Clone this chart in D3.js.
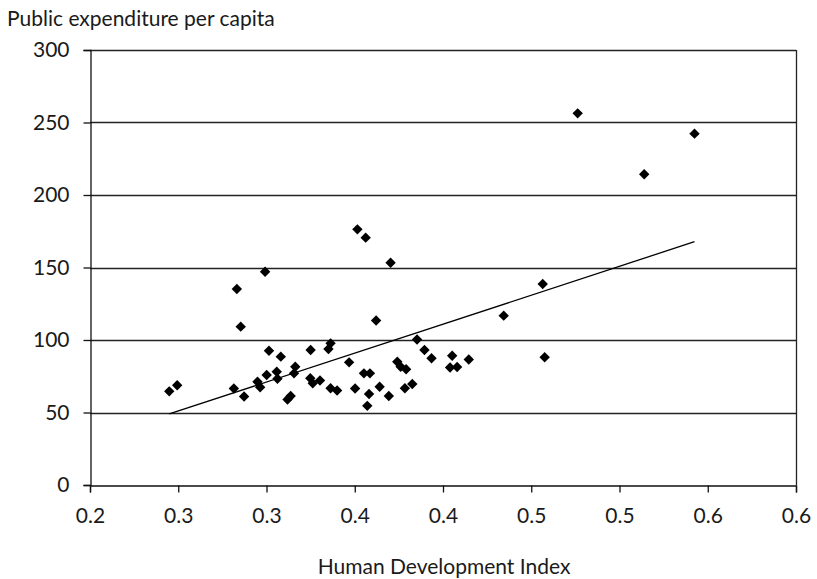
<!DOCTYPE html>
<html>
<head>
<meta charset="utf-8">
<script src="https://cdn.jsdelivr.net/npm/d3@7"></script>
<style>
  html, body { margin: 0; padding: 0; background: #fff; }
  svg { display: block; }
  text { font-family: "Lato", "Open Sans", sans-serif; fill: #1a1a1a; }
</style>
</head>
<body>
<svg id="chart" width="817" height="579"></svg>
<script>
// Human Development Index of each country
const hdi = [
  0.2449, 0.2494, 0.2832, 0.2815, 0.2854, 0.2873, 0.2992, 0.3014, 0.2949, 0.2964,
  0.3001, 0.3058, 0.3062, 0.3081, 0.3119, 0.3137, 0.3163, 0.3156, 0.3250, 0.3248,
  0.3262, 0.3303, 0.3363, 0.3351, 0.3363, 0.3400, 0.3468, 0.3502, 0.3515, 0.3562,
  0.3552, 0.3586, 0.3571, 0.3581, 0.3621, 0.3641, 0.3703, 0.3693, 0.3741, 0.3760,
  0.3791, 0.3784, 0.3826, 0.3853, 0.3895, 0.3935, 0.4052, 0.4146, 0.4040, 0.4080,
  0.4344, 0.4565, 0.4576, 0.4763, 0.5140, 0.5425
];
// Public expenditure per capita of each country
const spending = [
  64.6, 68.8, 135.2, 66.6, 109.2, 61.0, 147.1, 92.6, 71.2, 67.4,
  75.9, 78.1, 73.3, 88.5, 59.0, 61.4, 81.6, 77.0, 93.1, 73.6,
  70.1, 72.1, 97.7, 93.8, 66.7, 65.2, 84.6, 66.6, 176.3, 170.6,
  77.0, 77.0, 54.6, 62.8, 113.4, 67.8, 153.3, 61.4, 85.0, 81.6,
  79.8, 66.7, 69.7, 100.3, 93.1, 87.4, 89.1, 86.6, 81.0, 81.4,
  116.8, 138.6, 88.1, 256.3, 214.3, 242.3
];
// Linear trend line endpoints (HDI, expenditure)
const trendHdi = [0.2449, 0.5425];
const trendSpending = [49.0, 167.8];

const xTicks = [0.2, 0.25, 0.3, 0.35, 0.4, 0.45, 0.5, 0.55, 0.6];
const yTicks = [0, 50, 100, 150, 200, 250, 300];

const svg = d3.select("#chart");
const margin = { left: 90, right: 21, top: 50, bottom: 94 };
const W = 817, H = 579;

const x = d3.scaleLinear().domain([0.2, 0.6]).range([margin.left, W - margin.right]);
const y = d3.scaleLinear().domain([0, 300]).range([H - margin.bottom, margin.top]);

const font = "Lato, 'Open Sans', sans-serif";

// horizontal gridlines
svg.append("g")
  .selectAll("line")
  .data(yTicks.filter(d => d > 0))
  .join("line")
  .attr("x1", x(0.2)).attr("x2", x(0.6))
  .attr("y1", d => Math.round(y(d)) + 0.5).attr("y2", d => Math.round(y(d)) + 0.5)
  .attr("stroke", "#222").attr("stroke-width", 1.3);

// right border of the plot area
svg.append("line")
  .attr("x1", Math.round(x(0.6)) + 0.5).attr("x2", Math.round(x(0.6)) + 0.5)
  .attr("y1", y(300)).attr("y2", y(0))
  .attr("stroke", "#222").attr("stroke-width", 1.3);

// y axis
const yAxis = d3.axisLeft(y).tickValues(yTicks).tickSize(7).tickPadding(14)
  .tickFormat(d3.format("d"));
svg.append("g")
  .attr("transform", `translate(${Math.round(x(0.2)) + 0.5},0)`)
  .call(yAxis)
  .call(g => g.select(".domain").attr("stroke", "#111").attr("stroke-width", 1.3))
  .call(g => g.selectAll(".tick line").attr("stroke", "#111").attr("stroke-width", 1.3))
  .call(g => g.selectAll(".tick text").attr("font-size", 21).attr("fill", "#1a1a1a")
    .attr("font-family", font));

// x axis; labels rounded to one decimal
const xAxis = d3.axisBottom(x).tickValues(xTicks).tickSize(7).tickPadding(16)
  .tickFormat(d => (Math.round(d * 10 + 1e-9) / 10).toFixed(1));
svg.append("g")
  .attr("transform", `translate(0,${Math.round(y(0)) + 0.5})`)
  .call(xAxis)
  .call(g => g.select(".domain").attr("stroke", "#111").attr("stroke-width", 1.3))
  .call(g => g.selectAll(".tick line").attr("stroke", "#111").attr("stroke-width", 1.3))
  .call(g => g.selectAll(".tick text").attr("font-size", 21).attr("fill", "#1a1a1a")
    .attr("font-family", font));

// linear trend line
svg.append("line")
  .attr("x1", x(trendHdi[0])).attr("y1", y(trendSpending[0]))
  .attr("x2", x(trendHdi[1])).attr("y2", y(trendSpending[1]))
  .attr("stroke", "#000").attr("stroke-width", 1.3);

// diamond markers
const diamond = d3.symbol().type(d3.symbolSquare).size(54);
svg.append("g")
  .selectAll("path")
  .data(hdi.map((h, i) => [h, spending[i]]))
  .join("path")
  .attr("d", diamond)
  .attr("transform", d => `translate(${x(d[0])},${y(d[1])}) rotate(45)`)
  .attr("fill", "#000");

// axis titles
svg.append("text")
  .attr("x", 7).attr("y", 26)
  .attr("font-size", 21)
  .text("Public expenditure per capita");

svg.append("text")
  .attr("x", 444).attr("y", 574)
  .attr("text-anchor", "middle")
  .attr("font-size", 21)
  .text("Human Development Index");
</script>
</body>
</html>
